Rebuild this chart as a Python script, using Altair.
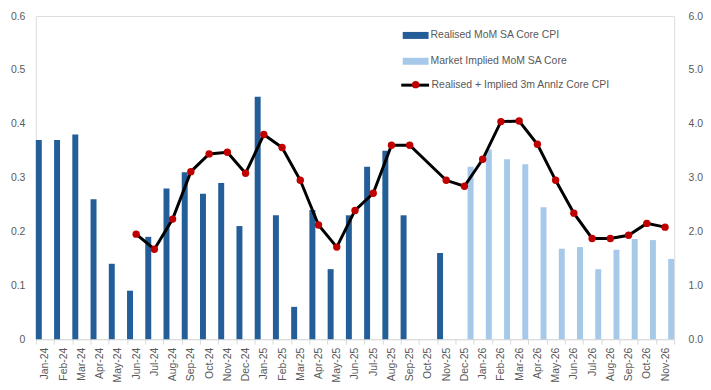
import altair as alt
import pandas as pd

months = ["Jan-24","Feb-24","Mar-24","Apr-24","May-24","Jun-24","Jul-24","Aug-24","Sep-24","Oct-24","Nov-24","Dec-24",
          "Jan-25","Feb-25","Mar-25","Apr-25","May-25","Jun-25","Jul-25","Aug-25","Sep-25","Oct-25","Nov-25","Dec-25",
          "Jan-26","Feb-26","Mar-26","Apr-26","May-26","Jun-26","Jul-26","Aug-26","Sep-26","Oct-26","Nov-26"]

realised = [0.37,0.37,0.38,0.26,0.14,0.09,0.19,0.28,0.31,0.27,0.29,0.21,
            0.45,0.23,0.06,0.24,0.13,0.23,0.32,0.35,0.23,None,0.16,None,
            None,None,None,None,None,None,None,None,None,None,None]

implied = [None]*23 + [0.32,0.352,0.334,0.325,0.245,0.168,0.171,0.13,0.166,0.186,0.184,0.149]

annualised = [None,None,None,None,None,1.95,1.67,2.23,3.11,3.44,3.47,3.08,
              3.80,3.56,2.95,2.12,1.71,2.39,2.71,3.60,3.60,None,2.95,2.84,
              3.34,4.04,4.05,3.62,2.95,2.34,1.87,1.87,1.93,2.15,2.08]

S_REAL = "Realised MoM SA Core CPI"
S_IMPL = "Market Implied MoM SA Core"
S_LINE = "Realised + Implied 3m Annlz Core CPI"

rows = []
for m, r, i in zip(months, realised, implied):
    if r is not None:
        rows.append({"month": m, "series": S_REAL, "value": r})
    if i is not None:
        rows.append({"month": m, "series": S_IMPL, "value": i})
bars_df = pd.DataFrame(rows)
line_df = pd.DataFrame([{"month": m, "value": v} for m, v in zip(months, annualised) if v is not None])

FONT = "Liberation Sans"
GREY = "#595959"
LEG_FS = 10.5

xenc = alt.X("month:N", sort=months, scale=alt.Scale(domain=months, paddingInner=0, paddingOuter=0),
             axis=alt.Axis(title=None, labelAngle=270, labelColor=GREY, labelFontSize=10.5, labelFont=FONT,
                           domainColor="#d9d9d9", tickColor="#d9d9d9", tickBand="extent", tickSize=5,
                           labelPadding=3, grid=False))

bars = alt.Chart(bars_df).mark_bar().encode(
    x=xenc,
    xOffset=alt.XOffset("series:N", scale=alt.Scale(domain=[S_REAL, S_IMPL], paddingInner=0.514, paddingOuter=0)),
    y=alt.Y("value:Q", scale=alt.Scale(domain=[0, 0.6], nice=False),
            axis=alt.Axis(title=None, values=[0, 0.1, 0.2, 0.3, 0.4, 0.5, 0.6],
                          labelExpr="datum.value == 0 ? '0' : format(datum.value, '.1f')",
                          labelColor=GREY, labelFontSize=10.5, labelFont=FONT, domain=False, ticks=False,
                          grid=False, labelPadding=11, orient="left")),
    fill=alt.Fill("series:N", scale=alt.Scale(domain=[S_REAL, S_IMPL], range=["#245E99", "#A6C9EA"]),
                  legend=alt.Legend(title=None, orient="none", legendX=369, legendY=6.5, direction="vertical",
                                    symbolType="M-1,-0.27H1V0.27H-1Z", symbolSize=676, symbolStrokeWidth=0,
                                    labelColor=GREY, labelFontSize=LEG_FS, labelFont=FONT, labelOffset=2,
                                    labelLimit=300, rowPadding=7, padding=0)),
)

yline = alt.Scale(domain=[0, 6], nice=False)

line = alt.Chart(line_df).mark_line(strokeWidth=3).encode(
    x=xenc,
    y=alt.Y("value:Q", scale=yline,
            axis=alt.Axis(title=None, values=[0, 1, 2, 3, 4, 5, 6], format=".1f", orient="right",
                          labelColor=GREY, labelFontSize=10.5, labelFont=FONT, domain=False, ticks=False,
                          grid=False, labelPadding=14)),
    stroke=alt.Stroke("s:N", scale=alt.Scale(domain=[S_LINE], range=["#000000"]),
                      legend=alt.Legend(title=None, orient="none", legendX=366, legendY=54, symbolType="stroke",
                                        symbolSize=784, symbolStrokeWidth=3,
                                        labelColor=GREY, labelFontSize=LEG_FS, labelFont=FONT, labelOffset=1,
                                        labelLimit=300, padding=0)),
).transform_calculate(s=f"'{S_LINE}'")

points = alt.Chart(line_df).mark_point(filled=True, size=55, color="#C00000", opacity=1).encode(
    x=xenc,
    y=alt.Y("value:Q", scale=yline, axis=None),
    shape=alt.Shape("d:N", scale=alt.Scale(domain=["dot"], range=["circle"]),
                    legend=alt.Legend(title=None, orient="none", legendX=377, legendY=64,
                                      symbolFillColor="#C00000", symbolStrokeWidth=0, symbolSize=55,
                                      labelExpr="''", padding=0)),
).transform_calculate(d="'dot'")

chart = alt.layer(bars, line, points).resolve_scale(y="independent", fill="independent",
                                                   stroke="independent", shape="independent").properties(
    width=642, height=325, padding={"left": 2, "right": 0, "top": 2, "bottom": 0}
).configure_view(stroke=None).configure(font=FONT)

chart.save("out.html", embed_options={"renderer": "svg", "actions": False})
